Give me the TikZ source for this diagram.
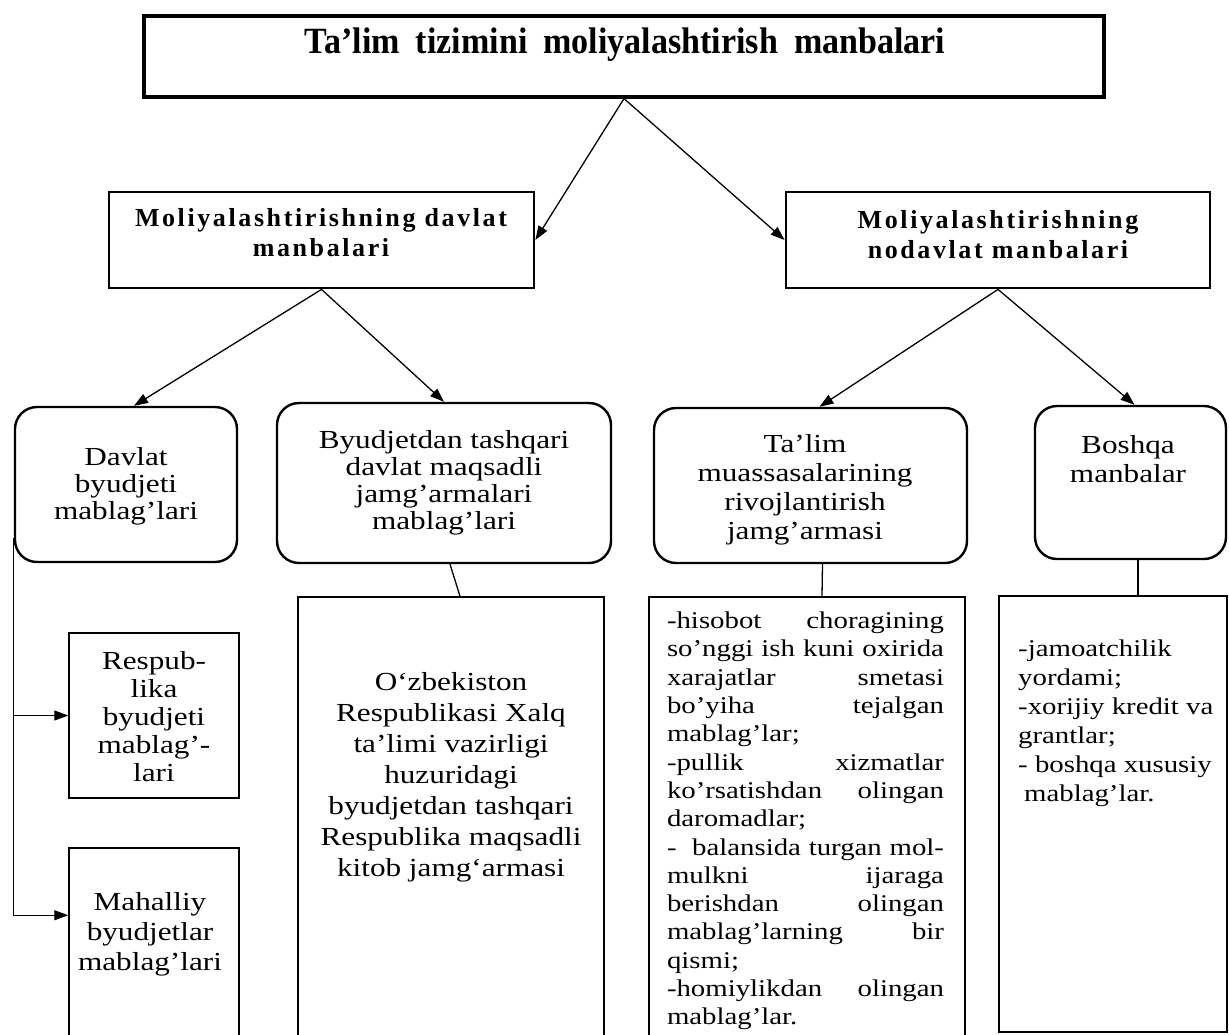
\documentclass[tikz,border=0pt]{standalone}
\usepackage{fontspec}
\setmainfont{Liberation Serif}
\newfontfamily\regfont{Liberation Serif}[FakeStretch=1.2]
\newfontfamily\spfont{Liberation Serif}[LetterSpace=10]
\newfontfamily\ttlfont{Liberation Serif}[FakeStretch=0.92]
\usetikzlibrary{arrows.meta,fit,calc}
\newcommand\justline[1]{\makebox[277pt][s]{#1}}
\begin{document}
\begin{tikzpicture}[x=1pt,y=-1pt,
  titlebox/.style={draw, line width=3.2pt, inner sep=0pt},
  headbox/.style={draw, line width=2.8pt, inner sep=0pt},
  roundbox/.style={draw, line width=2.4pt, rounded corners=22pt, inner sep=0pt},
  plainbox/.style={draw, line width=1.5pt, inner sep=0pt},
  conn/.style={line width=1.3pt},
  arr/.style={conn, -{Triangle[length=14pt,width=10pt]}},
  headtxt/.style={inner sep=0pt, align=center, font=\spfont\bfseries\fontsize{26}{30}\selectfont},
  txt/.style={inner sep=0pt, align=center},
  listtxt/.style={inner sep=0pt, align=left},
]
\path[use as bounding box, fill=white] (0,0) rectangle (1229,1034);
\clip (0,0) rectangle (1229,1034);

% boxes
\node[titlebox, fit={(144,16)(1104,97)}] (title) {};
\node[headbox, fit={(109,192)(534,288)}] (lsrc) {};
\node[headbox, fit={(786,192)(1210,288)}] (rsrc) {};
\node[roundbox, fit={(15,407)(237,562)}] (davlat) {};
\node[roundbox, fit={(277,403)(611,563)}] (byud) {};
\node[roundbox, fit={(654,408)(967,563)}] (talim) {};
\node[roundbox, fit={(1035,406)(1226,559)}] (boshqa) {};
\node[plainbox, fit={(69,633)(239,798)}] (resp) {};
\node[plainbox, fit={(69,848)(239,1045)}] (mah) {};
\node[plainbox, fit={(298,597)(604,1045)}] (ozb) {};
\node[plainbox, fit={(649,597)(965,1045)}] (list1) {};
\node[plainbox, fit={(999,596)(1227,1032)}] (list2) {};

% texts
\node[inner sep=0pt, font=\ttlfont\bfseries\fontsize{37}{40}\selectfont] (ttitle) at (625,45)
  {Ta’lim\hspace{16pt}tizimini\hspace{16pt}moliyalashtirish\hspace{16pt}manbalari};
\node[headtxt] (tlsrc) at (321,233) {Moliyalashtirishning davlat\\manbalari};
\node[headtxt] (trsrc) at (998,235) {Moliyalashtirishning\\nodavlat manbalari};

\node[txt, font=\regfont\fontsize{26}{27}\selectfont] (tdavlat) at (126,486)
  {Davlat\\byudjeti\\mablag’lari};
\node[txt, font=\regfont\fontsize{26}{27}\selectfont] (tbyud) at (444,483)
  {Byudjetdan tashqari\\davlat maqsadli\\jamg’armalari\\mablag’lari};
\node[txt, font=\regfont\fontsize{26}{29}\selectfont] (ttalim) at (805,490)
  {Ta’lim\\muassasalarining\\rivojlantirish\\jamg’armasi};
\node[txt, font=\regfont\fontsize{26}{29}\selectfont] (tboshqa) at (1128,459)
  {Boshqa\\manbalar};
\node[txt, font=\regfont\fontsize{26}{28}\selectfont] (tresp) at (154,717)
  {Respub-\\lika\\byudjeti\\mablag’-\\lari};
\node[txt, font=\regfont\fontsize{26}{30}\selectfont] (tmah) at (150,934)
  {Mahalliy\\byudjetlar\\mablag’lari};
\node[txt, font=\regfont\fontsize{26}{31}\selectfont] (tozb) at (451,777)
  {O‘zbekiston\\Respublikasi Xalq\\ta’limi vazirligi\\huzuridagi\\byudjetdan tashqari\\Respublika maqsadli\\kitob jamg‘armasi};
\node[listtxt, font=\regfont\fontsize{24}{28.3}\selectfont] (tlist1) at (805.5,821)
  {\justline{-hisobot choragining}\\
   \justline{so’nggi ish kuni oxirida}\\
   \justline{xarajatlar smetasi}\\
   \justline{bo’yiha tejalgan}\\
   mablag’lar;\\
   \justline{-pullik xizmatlar}\\
   \justline{ko’rsatishdan olingan}\\
   daromadlar;\\
   \justline{-\ \ balansida turgan mol-}\\
   \justline{mulkni ijaraga}\\
   \justline{berishdan olingan}\\
   \justline{mablag’larning bir}\\
   qismi;\\
   \justline{-homiylikdan olingan}\\
   mablag’lar.};
\node[listtxt, anchor=west, font=\regfont\fontsize{24}{29}\selectfont] (tlist2) at (1018,723)
  {-jamoatchilik\\yordami;\\-xorijiy kredit va\\grantlar;\\- boshqa xususiy\\\hspace*{6pt}mablag’lar.};

% connectors
\draw[arr] (title.south) -- (lsrc.east);
\draw[arr] (title.south) -- (rsrc.west);
\draw[arr] (lsrc.south) -- ($(davlat.north)+(8,0)$);
\draw[arr] (lsrc.south) -- (byud.north);
\draw[arr] (rsrc.south) -- ($(talim.north)+(9,0)$);
\draw[arr] (rsrc.south) -- ($(boshqa.north)+(4,0)$);
\draw[conn] ($(byud.south)+(6,0)$) -- ($(ozb.north)+(9,0)$);
\draw[conn] ($(talim.south)+(12,0)$) -- ($(list1.north)+(15,0)$);
\draw[conn] ($(boshqa.south)+(7.5,0)$) -- ($(list2.north)+(25,0)$);
\draw[arr] ($(davlat.south west)+(0,-25)$) |- (resp.west);
\draw[arr] ($(davlat.south west)+(0,-25)$) |- ($(mah.north west)+(0,68)$);
\end{tikzpicture}
\end{document}
